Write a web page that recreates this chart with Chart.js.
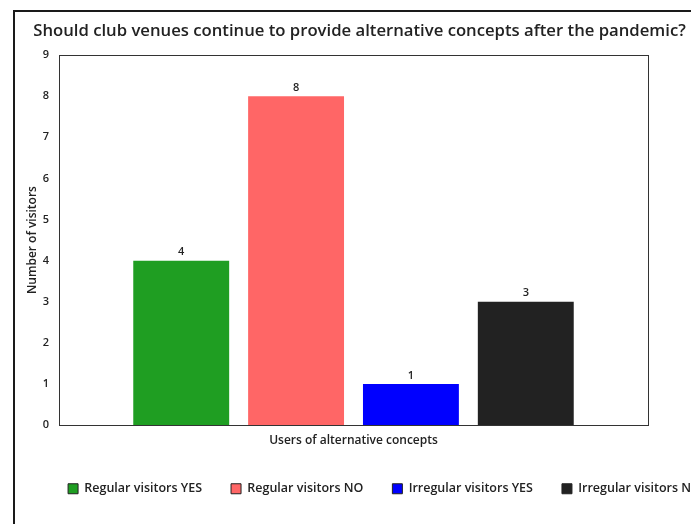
<!DOCTYPE html>
<html>
<head>
<meta charset="utf-8">
<script src="https://cdn.jsdelivr.net/npm/chart.js@4"></script>
<style>
  html, body { margin: 0; padding: 0; background: #fff; overflow: hidden; width: 691px; height: 524px; }
  #frame { position: absolute; left: 13px; top: 10px; width: 800px; height: 600px; border: 2px solid #1a1a1a; }
  #wrap { position: absolute; left: 0; top: 0; width: 709px; height: 540px; }
</style>
</head>
<body>
<div id="frame"></div>
<div id="wrap"><canvas id="visitorsChart"></canvas></div>
<script>
// ========== DATA ========== //
const chartTitle = "Should club venues continue to provide alternative concepts after the pandemic?";
const categories = ["Users of alternative concepts"];
const seriesNames = ["Regular visitors YES", "Regular visitors NO", "Irregular visitors YES", "Irregular visitors NO"];
const seriesValues = [4, 8, 1, 3];
const seriesColors = ["#1f9e22", "#ff6666", "#0000ff", "#222222"];
const yTicks = [0, 1, 2, 3, 4, 5, 6, 7, 8, 9];

const FONT = "'Open Sans', sans-serif";
const TEXT = "#222";

// value labels on top of each bar
const valueLabels = {
    id: "valueLabels",
    afterDatasetsDraw(chart) {
        const c = chart.ctx;
        c.save();
        c.font = "600 11px " + FONT;
        c.fillStyle = TEXT;
        c.textAlign = "center";
        c.textBaseline = "bottom";
        chart.data.datasets.forEach((ds, i) => {
            const bar = chart.getDatasetMeta(i).data[0];
            c.fillText(ds.data[0], bar.x, bar.y - 3);
        });
        c.restore();
    }
};

// box around the plot area + nudge the legend to the right like the original
const plotFrame = {
    id: "plotFrame",
    afterLayout(chart) {
        chart.legend.left += 25;
        chart.legend.right += 25;
    },
    afterDraw(chart) {
        const a = chart.chartArea;
        const c = chart.ctx;
        c.save();
        c.strokeStyle = "#333";
        c.lineWidth = 1;
        c.strokeRect(Math.round(a.left) + 0.5, Math.round(a.top) + 0.5,
            Math.round(a.right - a.left), Math.round(a.bottom - a.top));
        c.restore();
    }
};

const ctx = document.getElementById("visitorsChart");
new Chart(ctx, {
    type: "bar",
    data: {
        labels: categories,
        datasets: seriesNames.map((name, i) => ({
            label: name,
            data: [seriesValues[i]],
            backgroundColor: seriesColors[i],
            borderWidth: 0,
            categoryPercentage: 0.78,
            barPercentage: 0.835
        }))
    },
    options: {
        responsive: true,
        maintainAspectRatio: false,
        animation: false,
        layout: { padding: { left: 10, right: 0, top: 0, bottom: 35 } },
        plugins: {
            title: {
                display: true,
                text: chartTitle,
                color: TEXT,
                font: { family: FONT, size: 16.7, weight: "600" },
                padding: { top: 21, bottom: 14 }
            },
            legend: {
                position: "bottom",
                labels: {
                    boxWidth: 10,
                    boxHeight: 10,
                    padding: 29,
                    color: TEXT,
                    font: { family: FONT, size: 12.5, weight: "600" },
                    generateLabels(chart) {
                        return Chart.defaults.plugins.legend.labels.generateLabels(chart).map(l => {
                            l.strokeStyle = "#222";
                            l.lineWidth = 1;
                            return l;
                        });
                    }
                }
            },
            tooltip: { enabled: false }
        },
        scales: {
            x: {
                grid: { display: false },
                border: { color: "#333" },
                ticks: { display: false },
                title: {
                    display: true,
                    text: categories[0],
                    color: TEXT,
                    font: { family: FONT, size: 12, weight: "600" },
                    padding: { top: 0, bottom: 6 }
                }
            },
            y: {
                min: yTicks[0],
                max: yTicks[yTicks.length - 1],
                grid: { display: false, drawTicks: false },
                border: { color: "#333" },
                afterBuildTicks: axis => { axis.ticks = yTicks.map(v => ({ value: v })); },
                afterFit: axis => { axis.width = 49; },
                ticks: {
                    color: TEXT,
                    padding: 10,
                    font: { family: FONT, size: 11, weight: "600" }
                },
                title: {
                    display: true,
                    text: "Number of visitors",
                    color: TEXT,
                    font: { family: FONT, size: 12, weight: "600" },
                    padding: { top: 15, bottom: 2 }
                }
            },
            // empty right-hand space of the original figure
            yRight: {
                position: "right",
                grid: { display: false, drawTicks: false },
                border: { display: false },
                ticks: { display: false },
                afterFit: axis => { axis.width = 61; }
            }
        }
    },
    plugins: [valueLabels, plotFrame]
});
</script>
</body>
</html>
